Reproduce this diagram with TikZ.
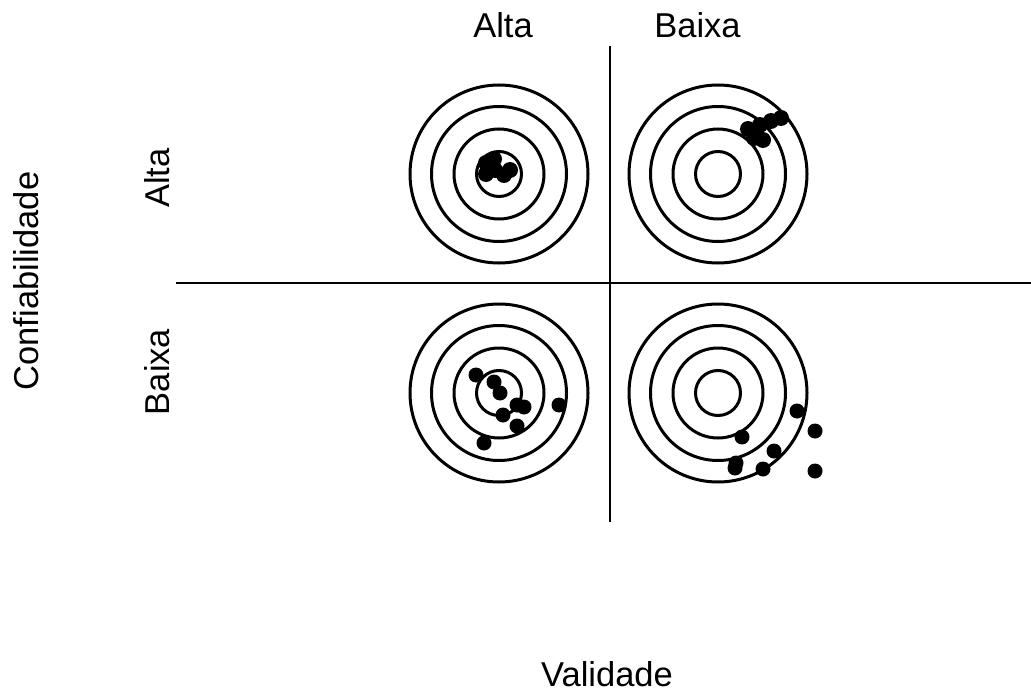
\documentclass[tikz,border=0pt]{standalone}
\usepackage{fontspec}
\setmainfont{Liberation Sans}
\begin{document}
\begin{tikzpicture}[x=1pt,y=-1pt,
  lbl/.style={font=\fontsize{34.5}{40}\selectfont, inner sep=0pt, anchor=base},
  ring/.style={draw=black, line width=3pt},
  hit/.style={fill=black},
  axis/.style={draw=black, line width=1.7pt},
  target/.pic={
    \foreach \r in {22.5,45,67.5,89}{\draw[ring] (0,0) circle (\r);}
  }]
\useasboundingbox (0,0) rectangle (1031,693);
% axes
\coordinate (vtop) at (610,46);
\coordinate (vbot) at (610,522);
\coordinate (hleft) at (176,283);
\coordinate (hright) at (1031,283);
\draw[axis] (vtop) -- (vbot);
\draw[axis] (hleft) -- (hright);
% labels
\node[lbl] (colA) at (503,38) {Alta};
\node[lbl] (colB) at (697.5,38) {Baixa};
\node[lbl, rotate=90] (rowA) at (169,178) {Alta};
\node[lbl, rotate=90] (rowB) at (169,372) {Baixa};
\node[lbl, rotate=90] (ylab) at (38,281) {Confiabilidade};
\node[lbl] (xlab) at (607,686) {Validade};
% targets
\pic at (499,174) {target};
\pic at (718,174) {target};
\pic at (499,393) {target};
\pic at (718,393) {target};
% hits: high/high
\foreach \p in {(486,163),(486,174),(494,159),(495,170),(504,175),(510,170),(490,168)}
  \fill[hit] \p circle (8);
% high reliability, low validity
\foreach \p in {(748,129),(755,132),(760,125),(763,140),(771,121),(781,118),(754,138)}
  \fill[hit] \p circle (8);
% low reliability, high validity
\foreach \p in {(476,375),(494,382),(500,393),(503,415),(517,405),(524,407),(517,426),(559,405),(484,443)}
  \fill[hit] \p circle (7.5);
% low/low
\foreach \p in {(815,431),(815,471),(797,411),(742,437),(736,463),(763,469),(774,451),(735,468)}
  \fill[hit] \p circle (7.5);
\end{tikzpicture}
\end{document}
